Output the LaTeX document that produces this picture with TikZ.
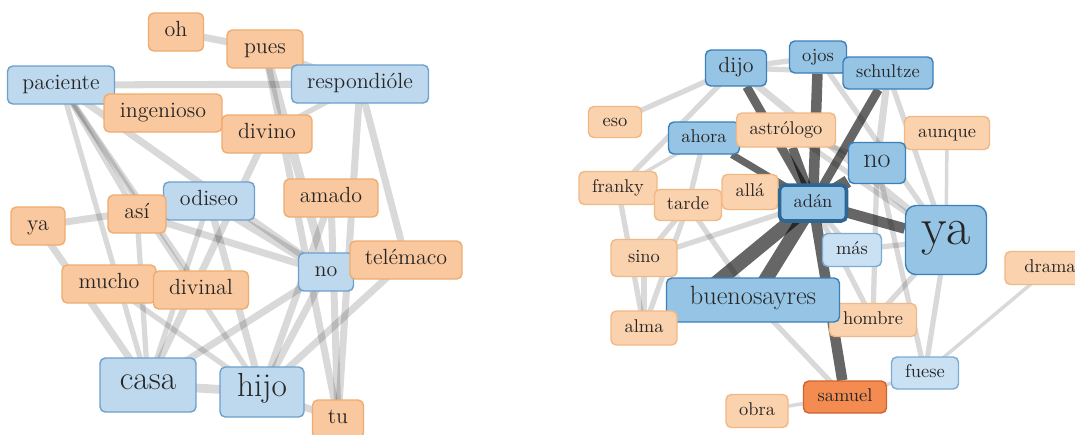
\documentclass[tikz,border=0pt]{standalone}
\usepackage{tikz}
\usetikzlibrary{backgrounds}
\definecolor{lightorange}{RGB}{250,200,158}
\definecolor{orangeline}{RGB}{238,172,112}
\definecolor{paleorange}{RGB}{251,210,174}
\definecolor{paleline}{RGB}{242,184,132}
\definecolor{lightblue}{RGB}{190,216,238}
\definecolor{blueline}{RGB}{108,160,206}
\definecolor{midblue}{RGB}{150,196,228}
\definecolor{midline}{RGB}{58,128,186}
\definecolor{paleblue}{RGB}{202,224,243}
\definecolor{palebline}{RGB}{122,172,212}
\definecolor{hotorange}{RGB}{244,140,82}
\definecolor{hotline}{RGB}{208,98,46}
\tikzstyle{word}=[draw, rounded corners=3pt, line width=.8pt, inner sep=1pt,
  minimum height=.76cm, text=black!85, text height=1.5ex, text depth=.35ex,
  font=\fontsize{12.5}{14}\selectfont]
\tikzstyle{word2}=[word, fill=lightorange, draw=orangeline]
\tikzstyle{word3}=[word, fill=lightblue, draw=blueline]
\tikzstyle{small}=[word, minimum height=.64cm, font=\fontsize{10.5}{12}\selectfont]
\tikzstyle{small2}=[small, fill=paleorange, draw=paleline]
\tikzstyle{small3}=[small, fill=midblue, draw=midline]
\tikzstyle{small4}=[small, fill=paleblue, draw=palebline]
\tikzstyle{faint}=[draw=black, draw opacity=.15]
\tikzstyle{strong}=[draw=black, draw opacity=.6]

\begin{document}
\begin{tikzpicture}[x=.02cm, y=-.02cm]
  \useasboundingbox (0,0) rectangle (1075,434);
  \clip (0,0) rectangle (1075,434);

  % left network
  \node[word2, minimum width=1.1cm] (oh) at (176,32) {oh};
  \node[word2, minimum width=1.52cm] (pues) at (265,49) {pues};
  \node[word3, minimum width=2.74cm] (respondiole) at (360,84) {respondióle};
  \node[word3, minimum width=2.14cm] (paciente) at (61,85) {paciente};
  \node[word2, minimum width=2.36cm] (ingenioso) at (163,113) {ingenioso};
  \node[word2, minimum width=1.8cm] (divino) at (267,134) {divino};
  \node[word3, minimum width=1.82cm] (odiseo) at (209,201) {odiseo};
  \node[word2, minimum width=1.16cm] (asi) at (137,214) {así};
  \node[word2, minimum width=1.88cm] (amado) at (331,198) {amado};
  \node[word2, minimum width=1.08cm] (ya) at (38,226) {ya};
  \node[word3, minimum width=1.1cm] (no) at (326,272) {no};
  \node[word2, minimum width=2.24cm] (telemaco) at (406,260) {telémaco};
  \node[word2, minimum width=1.88cm] (mucho) at (109,284) {mucho};
  \node[word2, minimum width=1.9cm] (divinal) at (201,290) {divinal};
  \node[word3, minimum width=1.92cm, minimum height=1.08cm,
    font=\fontsize{19}{22}\selectfont] (casa) at (148,385) {casa};
  \node[word3, minimum width=1.68cm, minimum height=1cm,
    font=\fontsize{19}{22}\selectfont] (hijo) at (262,392) {hijo};
  \node[word2, minimum width=1.02cm] (tu) at (338,419) {tu};

  % right network
  \node[small3, minimum width=1.22cm, minimum height=.72cm,
    font=\fontsize{12.5}{14}\selectfont] (dijo) at (736,68) {dijo};
  \node[small3, minimum width=1.14cm] (ojos) at (818,57) {ojos};
  \node[small3, minimum width=1.8cm] (schultze) at (888,73) {schultze};
  \node[small2, minimum width=1.06cm, minimum height=.62cm] (eso) at (615,122) {eso};
  \node[small3, minimum width=1.42cm] (ahora) at (704,138) {ahora};
  \node[small2, minimum width=1.98cm, minimum height=.68cm] (astrologo) at (786,130) {astrólogo};
  \node[small2, minimum width=1.7cm, minimum height=.66cm] (aunque) at (947,133) {aunque};
  \node[small3, minimum width=1.14cm, minimum height=.82cm,
    font=\fontsize{16}{18}\selectfont] (no2) at (877,163) {no};
  \node[small2, minimum width=1.56cm, minimum height=.66cm] (franky) at (618,188) {franky};
  \node[small2, minimum width=1.34cm, minimum height=.62cm] (tarde) at (688,205) {tarde};
  \node[small2, minimum width=1.12cm, minimum height=.7cm] (alla) at (750,192) {allá};
  \node[small3, minimum width=1.34cm, minimum height=.72cm, draw=midline!80!black,
    line width=2pt] (adan) at (813,203) {adán};
  \node[small3, minimum width=1.62cm, minimum height=1.38cm, rounded corners=6pt,
    font=\fontsize{30}{34}\selectfont] (ya2) at (946,240) {ya};
  \node[small4, minimum width=1.18cm, minimum height=.66cm] (mas) at (852,250) {más};
  \node[small2, minimum width=1.32cm, minimum height=.74cm] (sino) at (644,258) {sino};
  \node[small2, minimum width=1.8cm, minimum height=.66cm] (drama) at (1050,268) {drama};
  \node[small2, minimum width=1.74cm, minimum height=.66cm] (hombre) at (873,320) {hombre};
  \node[small3, minimum width=3.46cm, minimum height=.88cm,
    font=\fontsize{15}{17}\selectfont] (buenosayres) at (753,300) {buenosayres};
  \node[small2, minimum width=1.32cm, minimum height=.68cm] (alma) at (644,328) {alma};
  \node[small4, minimum width=1.34cm] (fuese) at (925,373) {fuese};
  \node[small, fill=hotorange, draw=hotline, minimum width=1.66cm] (samuel) at (845,397) {samuel};
  \node[small2, minimum width=1.24cm, minimum height=.66cm] (obra) at (757,411) {obra};

  \begin{scope}[on background layer]
    \foreach \a/\b/\w in {oh/pues/4, pues/respondiole/3, pues/no/5, pues/tu/4,
      paciente/respondiole/4, paciente/casa/3, paciente/no/4, paciente/hijo/3,
      paciente/divinal/3, paciente/asi/3, divino/respondiole/3, divino/casa/4,
      respondiole/telemaco/4, respondiole/tu/4, ya/odiseo/4, ya/casa/4,
      asi/no/4, asi/casa/3, odiseo/no/5, odiseo/hijo/4, odiseo/casa/3,
      amado/hijo/4, amado/tu/4, no/casa/4, no/hijo/4, telemaco/hijo/4,
      casa/hijo/5, hijo/tu/4, mucho/hijo/3}
      \draw[faint, line width=\w pt] (\a.center) -- (\b.center);
    \foreach \a/\b/\w in {eso/dijo/3, franky/dijo/3, tarde/ahora/3, franky/ahora/2,
      sino/tarde/3, alma/tarde/3, sino/adan/3, tarde/buenosayres/3,
      buenosayres/samuel/3, obra/samuel/2, samuel/fuese/2, fuese/drama/2,
      fuese/ya2/3, fuese/no2/3, aunque/ya2/2, mas/ya2/3, hombre/ya2/3,
      schultze/ya2/3, ojos/ya2/3, dijo/ya2/4, dijo/schultze/3, dijo/ojos/3,
      astrologo/ya2/3, astrologo/no2/3, no2/hombre/3, adan/hombre/3,
      adan/mas/3, franky/alma/3, sino/alma/3, schultze/no2/4}
      \draw[faint, line width=\w pt] (\a.center) -- (\b.center);
    \foreach \a/\w in {dijo/5, ojos/6, schultze/5, astrologo/5, ahora/4,
      no2/7, ya2/6, samuel/6, buenosayres.center/8, buenosayres.text/8}
      \draw[strong, line width=\w pt] (adan.center) -- (\a);
  \end{scope}
\end{tikzpicture}
\end{document}
